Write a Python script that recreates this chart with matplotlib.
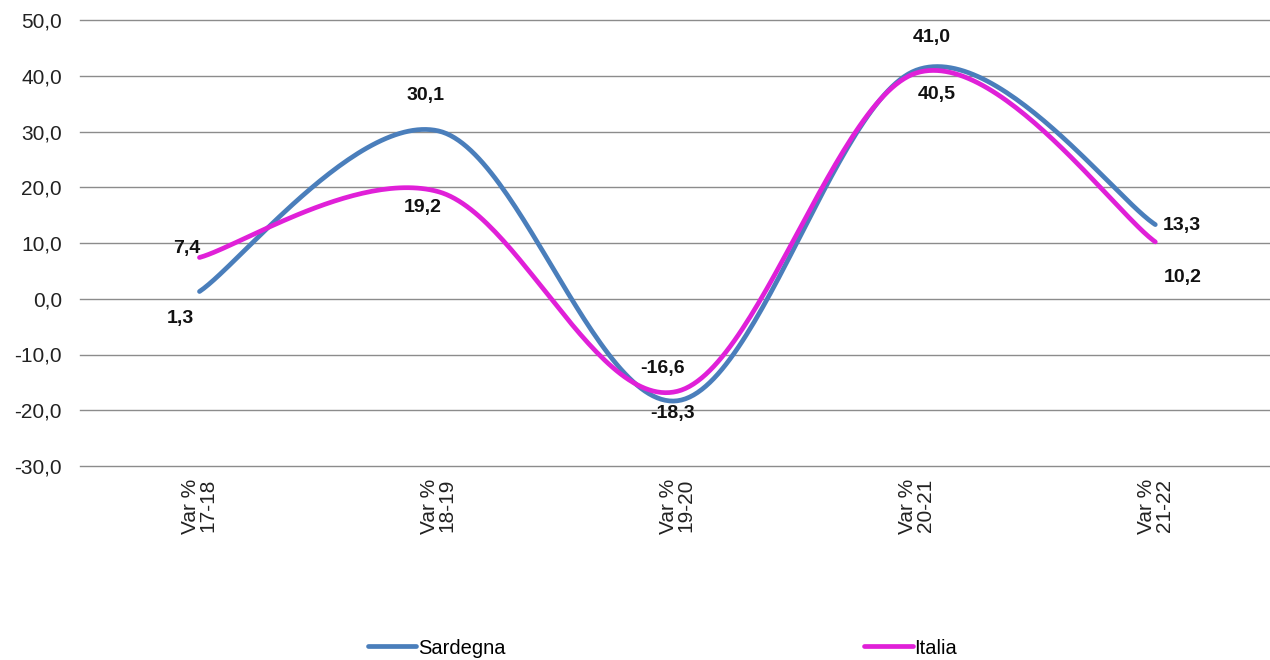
import numpy as np
import matplotlib
matplotlib.use("Agg")
import matplotlib.pyplot as plt

plt.rcParams['font.family'] = ['Liberation Sans', 'DejaVu Sans']

categories = ["Var %\n17-18", "Var %\n18-19", "Var %\n19-20", "Var %\n20-21", "Var %\n21-22"]
sardegna = [1.3, 30.1, -18.3, 41.0, 13.3]
italia = [7.4, 19.2, -16.6, 40.5, 10.2]
yticks = [-30, -20, -10, 0, 10, 20, 30, 40, 50]

col_s = "#4A7EBB"
col_i = "#E020D8"


def smooth(xs, ys, n=60):
    xs = np.asarray(xs, float)
    ys = np.asarray(ys, float)
    px = np.concatenate([[xs[0]], xs, [xs[-1]]])
    py = np.concatenate([[ys[0]], ys, [ys[-1]]])
    ox, oy = [], []
    for i in range(1, len(px) - 2):
        p0 = np.array([px[i - 1], py[i - 1]])
        p1 = np.array([px[i], py[i]])
        p2 = np.array([px[i + 1], py[i + 1]])
        p3 = np.array([px[i + 2], py[i + 2]])
        c1 = p1 + (p2 - p0) / 6
        c2 = p2 - (p3 - p1) / 6
        t = np.linspace(0, 1, n)[:, None]
        b = ((1 - t) ** 3) * p1 + 3 * ((1 - t) ** 2) * t * c1 + 3 * (1 - t) * t ** 2 * c2 + t ** 3 * p2
        ox.extend(b[:, 0]); oy.extend(b[:, 1])
    return np.array(ox), np.array(oy)


fig = plt.figure(figsize=(12.7, 6.6), dpi=100)
ax = fig.add_axes([80 / 1270, 1 - 466 / 660, 1 - 80 / 1270, (466 - 20) / 660])
x = np.arange(len(categories))

sx, sy = smooth(x, sardegna)
ix, iy = smooth(x, italia)
ax.plot(sx, sy, color=col_s, lw=3.4, solid_capstyle='round', zorder=3, label="Sardegna")
ax.plot(ix, iy, color=col_i, lw=3.4, solid_capstyle='round', zorder=4, label="Italia")

ax.set_ylim(-30, 50)
ax.set_xlim(-0.5, 4.48)
ax.set_yticks(yticks)
ax.set_yticklabels([f"{v:.1f}".replace(".", ",") for v in yticks], fontsize=15, color="#222222")
ax.set_xticks(x)
ax.set_xticklabels(categories, rotation=90, fontsize=15, color="#222222", va="top", ha="center",
                   multialignment="right", linespacing=0.9)
ax.tick_params(axis='both', length=0)
ax.tick_params(axis='x', pad=9)
ax.tick_params(axis='y', pad=13)
ax.grid(axis='y', color="#8C8C8C", lw=1.0)
for gl in ax.get_ygridlines():
    gl.set_clip_on(False)
ax.set_axisbelow(True)
for s in ax.spines.values():
    s.set_visible(False)


def lab(xv, yv, val, dx, dy, ha="center"):
    ax.annotate(f"{val:.1f}".replace(".", ","), (xv, yv), xytext=(dx, dy), textcoords="offset pixels",
                ha=ha, va="center", fontsize=14, fontweight="bold", color="#111111", zorder=5)


# Sardegna labels
lab(0, sardegna[0], sardegna[0], -19, -27)
lab(1, sardegna[1], sardegna[1], -13, 35)
lab(2, sardegna[2], sardegna[2], -5, -13)
lab(3, sardegna[3], sardegna[3], 15, 33)
lab(4, sardegna[4], sardegna[4], 7, -1, ha="left")
# Italia labels
lab(0, italia[0], italia[0], -13, 9)
lab(1, italia[1], italia[1], -16, -16)
lab(2, italia[2], italia[2], -15, 23)
lab(3, italia[3], italia[3], 20, -22)
lab(4, italia[4], italia[4], 8, -36, ha="left")

handles, labels = ax.get_legend_handles_labels()
fig.legend(handles, labels, loc="center", bbox_to_anchor=(0.5217, 1 - 648 / 660), ncol=2,
           frameon=False, fontsize=14.5, columnspacing=17.8, handlelength=2.4, handletextpad=0.1)

fig.savefig("out.png", dpi=100)
